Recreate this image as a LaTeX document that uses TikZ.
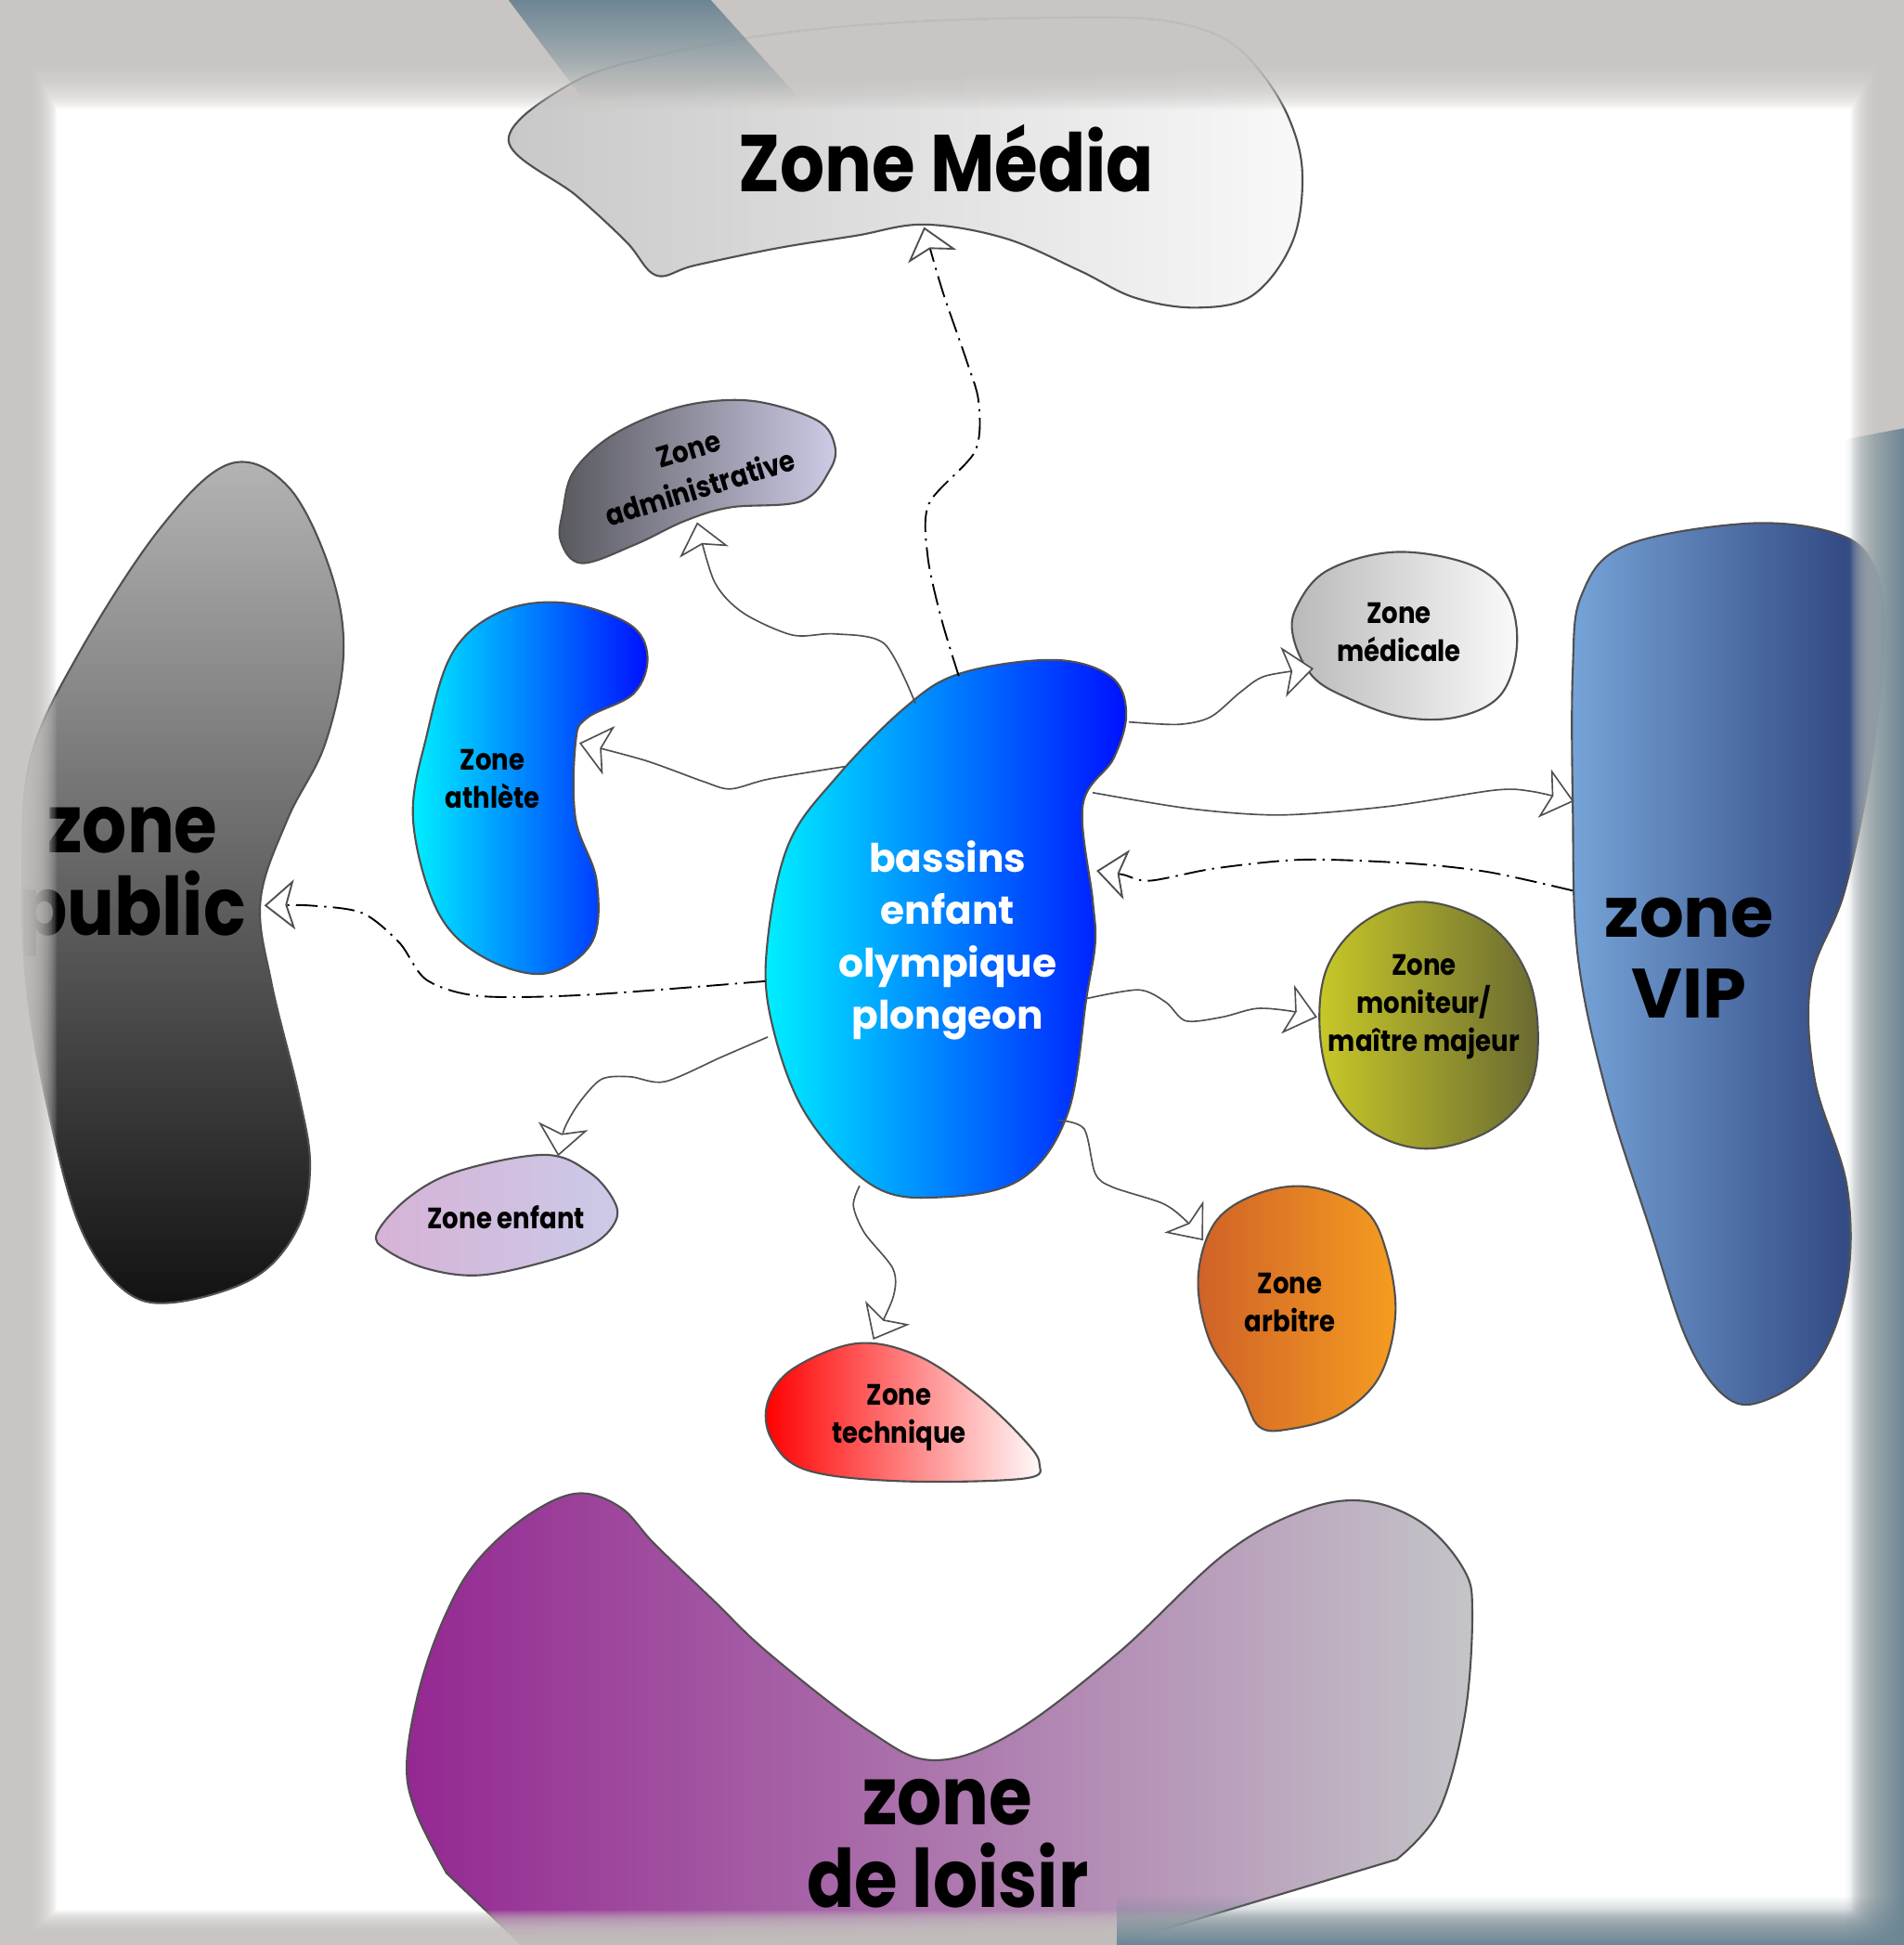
\documentclass[tikz,border=0pt]{standalone}
\usepackage{fontspec}
\newfontfamily\condfont{Poppins Bold}[FakeStretch=0.87]
\newfontfamily\widefont{Poppins Bold}
\usetikzlibrary{arrows.meta, fadings}
\definecolor{framegrey}{RGB}{200,197,194}
\definecolor{bandblue}{RGB}{108,134,148}
\definecolor{blobline}{RGB}{80,80,80}
\definecolor{linkgrey}{RGB}{80,80,80}
\definecolor{media1}{RGB}{200,200,200}
\definecolor{media2}{RGB}{248,248,248}
\definecolor{adm1}{RGB}{88,88,94}
\definecolor{adm2}{RGB}{205,203,230}
\definecolor{aqua1}{RGB}{0,240,255}
\definecolor{aqua2}{RGB}{0,16,255}
\definecolor{mdc1}{RGB}{185,185,185}
\definecolor{mdc2}{RGB}{250,250,250}
\definecolor{vip1}{RGB}{118,164,216}
\definecolor{vip2}{RGB}{42,62,120}
\definecolor{mon1}{RGB}{200,200,40}
\definecolor{mon2}{RGB}{106,106,50}
\definecolor{arb1}{RGB}{208,98,40}
\definecolor{arb2}{RGB}{245,156,32}
\definecolor{tec1}{RGB}{255,0,0}
\definecolor{tec2}{RGB}{255,255,255}
\definecolor{enf1}{RGB}{214,178,214}
\definecolor{enf2}{RGB}{204,202,232}
\definecolor{pub1}{RGB}{180,180,180}
\definecolor{pub2}{RGB}{18,18,18}
\definecolor{loi1}{RGB}{148,40,146}
\definecolor{loi2}{RGB}{196,196,200}
\tikzfading[name=fadeeast, left color=transparent!100, right color=transparent!0]
\tikzfading[name=fadesouth, top color=transparent!0, bottom color=transparent!100]
\tikzfading[name=fadeup, top color=transparent!100, bottom color=transparent!0]
\tikzset{
  blob/.style={draw=blobline, line width=0.9pt},
  openhead/.style={-{Stealth[color=linkgrey, fill=white, length=14pt, width=23pt, inset=3.5pt]}},
  link/.style={draw=linkgrey, line width=0.7pt, openhead},
  dlink/.style={draw=black, line width=0.8pt, dash pattern=on 10pt off 3pt on 1pt off 3pt, openhead},
  small/.style={font=\condfont\fontsize{13.5}{17.5}\selectfont, align=center, text=black},
  big/.style={font=\condfont\fontsize{37}{38}\selectfont, align=center, text=black},
  wide/.style={font=\widefont\fontsize{32}{37}\selectfont, align=center, text=black}
}

\begin{document}
\begin{tikzpicture}[x=0.02cm, y=-0.02cm]
  \useasboundingbox (0,0) rectangle (1535,1568);
  \fill[white] (0,0) rectangle (1535,1568);

  % zones
  \path[blob, left color=media1, right color=media2] plot[smooth cycle, tension=0.6] coordinates {
    (410,113) (461,67) (529,45) (627,27) (745,17) (882,14) (941,17) (985,30) (1014,55)
    (1039,95) (1050,140) (1042,195) (1010,238) (965,248) (915,240) (870,218) (810,192)
    (745,181) (690,190) (627,200) (560,214) (529,222) (505,195) (465,158)};
  \path[blob, left color=adm1, right color=adm2] plot[smooth cycle, tension=0.6] coordinates {
    (452,436) (454,411) (462,381) (489,354) (529,334) (569,324) (612,324) (659,339)
    (673,359) (669,379) (646,404) (589,409) (552,420) (512,439) (469,454)};
  \path[blob, left color=aqua1, right color=aqua2] plot[smooth cycle, tension=0.6] coordinates {
    (455,486) (507,503) (522,529) (511,559) (473,579) (464,599) (464,660) (481,710)
    (477,760) (438,785) (387,770) (352,733) (333,660) (344,593) (365,526) (404,493)};
  \path[blob, left color=aqua1, right color=aqua2] plot[smooth cycle, tension=0.6] coordinates {
    (729,571) (774,543) (849,532) (895,545) (908,574) (898,611) (873,649) (881,726)
    (883,760) (876,804) (861,897) (824,950) (761,965) (704,956) (649,897) (621,819)
    (619,757) (636,680) (674,627)};
  \path[blob, left color=mdc1, right color=mdc2] plot[smooth cycle, tension=0.6] coordinates {
    (1045,490) (1070,460) (1125,445) (1185,455) (1215,480) (1223,520) (1210,560)
    (1175,578) (1130,578) (1085,562) (1058,545) (1043,515)};
  \path[blob, left color=vip1, right color=vip2] plot[smooth cycle, tension=0.6] coordinates {
    (1275,480) (1310,440) (1409,422) (1480,430) (1510,455) (1519,509) (1509,614)
    (1487,719) (1460,790) (1463,870) (1489,956) (1489,1035) (1464,1100) (1420,1130)
    (1390,1125) (1360,1080) (1330,990) (1295,880) (1272,770) (1268,650) (1268,540)};
  \path[blob, left color=mon1, right color=mon2] plot[smooth cycle, tension=0.6] coordinates {
    (1147,727) (1200,745) (1231,785) (1240,835) (1232,880) (1200,912) (1150,926)
    (1105,912) (1075,878) (1064,830) (1070,780) (1100,743)};
  \path[blob, left color=arb1, right color=arb2] plot[smooth cycle, tension=0.6] coordinates {
    (1057,957) (1100,975) (1118,1010) (1125,1060) (1112,1110) (1080,1140) (1040,1152)
    (1015,1150) (1000,1120) (975,1080) (966,1030) (980,985) (1015,962)};
  \path[blob, left color=tec1, right color=tec2] plot[smooth cycle, tension=0.6] coordinates {
    (619,1130) (640,1103) (691,1083) (740,1093) (788,1125) (825,1160) (838,1180)
    (825,1192) (725,1194) (650,1185) (622,1160)};
  \path[blob, left color=enf1, right color=enf2] plot[smooth cycle, tension=0.6] coordinates {
    (304,994) (330,965) (370,944) (439,931) (475,945) (495,968) (496,985) (478,1003)
    (440,1017) (387,1028) (345,1023) (312,1008)};
  \path[blob, top color=pub1, bottom color=pub2] plot[smooth cycle, tension=0.6] coordinates {
    (185,374) (232,392) (266,459) (277,526) (262,600) (232,660) (210,726) (219,793)
    (241,883) (250,940) (240,990) (205,1030) (140,1050) (100,1040) (65,990) (40,900)
    (22,800) (18,700) (25,610) (64,526) (129,426)};
  \path[blob, left color=loi1, right color=loi2] (421,1568) -- plot[smooth, tension=0.6] coordinates {
    (360,1510) (335,1460) (328,1420) (339,1358) (360,1300) (385,1258) (425,1222)
    (465,1204) (500,1215) (528,1245) (575,1290) (620,1333) (700,1395) (752,1419)
    (815,1398) (901,1333) (987,1253) (1050,1218) (1100,1210) (1147,1228) (1180,1265)
    (1187,1300) (1181,1383) (1160,1460) (1126,1499)} -- (896,1568) -- cycle;

  % end points of the links
  \coordinate (bas-adm) at (738,567);
  \coordinate (adm-in) at (562,421);
  \coordinate (bas-med) at (773,545);
  \coordinate (med-in) at (745,183);
  \coordinate (bas-ath) at (681,618);
  \coordinate (ath-in) at (467,599);
  \coordinate (bas-mdc) at (910,582);
  \coordinate (mdc-in) at (1059,539);
  \coordinate (bas-vip) at (881,639);
  \coordinate (vip-in) at (1269,646);
  \coordinate (vip-bas) at (1268,718);
  \coordinate (bas-in) at (884,702);
  \coordinate (bas-pub) at (617,791);
  \coordinate (pub-in) at (213,730);
  \coordinate (bas-mon) at (876,805);
  \coordinate (mon-in) at (1062,820);
  \coordinate (bas-enf) at (619,836);
  \coordinate (enf-in) at (450,932);
  \coordinate (bas-tec) at (693,956);
  \coordinate (tec-in) at (704,1080);
  \coordinate (bas-arb) at (853,903);
  \coordinate (arb-in) at (970,1000);

  % links
  \draw[link] plot[smooth] coordinates {(bas-adm) (713,519) (673,511) (639,512) (599,494) (576,469) (adm-in)};
  \draw[dlink] plot[smooth] coordinates {(bas-med) (759,499) (748,449) (749,406) (786,364) (789,324) (779,290) (760,235) (med-in)};
  \draw[link] plot[smooth] coordinates {(bas-ath) (620,628) (589,636) (567,630) (520,613) (ath-in)};
  \draw[link] plot[smooth] coordinates {(bas-mdc) (950,584) (976,578) (1000,558) (1020,545) (mdc-in)};
  \draw[link] plot[smooth] coordinates {(bas-vip) (960,652) (1033,657) (1120,650) (1205,637) (1235,638) (vip-in)};
  \draw[dlink] plot[smooth] coordinates {(vip-bas) (1200,703) (1136,696) (1051,693) (980,700) (927,710) (905,705) (bas-in)};
  \draw[dlink] plot[smooth] coordinates {(bas-pub) (473,802) (387,803) (344,790) (322,760) (292,736) (250,730) (pub-in)};
  \draw[link] plot[smooth] coordinates {(bas-mon) (918,798) (940,808) (956,823) (985,820) (1013,813) (1040,815) (mon-in)};
  \draw[link] plot[smooth] coordinates {(bas-enf) (582,852) (536,872) (508,868) (485,870) (467,889) (455,910) (enf-in)};
  \draw[link] plot[smooth] coordinates {(bas-tec) (688,972) (697,994) (720,1023) (720,1046) (tec-in)};
  \draw[link] plot[smooth] coordinates {(bas-arb) (874,910) (883,946) (897,957) (937,970) (955,983) (arb-in)};

  % labels
  \node[big] (tmedia) at (763,128) {Zone Média};
  \node[small, rotate=17, font=\condfont\fontsize{13.5}{18.5}\selectfont] (tadm) at (560,378) {Zone\\administrative};
  \node[small] (tath) at (397,628) {Zone\\athlète};
  \node[font=\widefont\fontsize{18}{24}\selectfont, align=center, text=white] (tbas) at (764,758) {bassins\\enfant\\olympique\\plongeon};
  \node[small] (tmdc) at (1128,510) {Zone\\médicale};
  \node[wide] (tvip) at (1362,772) {zone\\VIP};
  \node[small] (tmon) at (1148,812) {Zone\\moniteur/\\maître majeur};
  \node[small] (tarb) at (1040,1050) {Zone\\arbitre};
  \node[small] (ttec) at (725,1143) {Zone\\technique};
  \node[small] (tenf) at (408,981) {Zone enfant};
  \node[big] (tpub) at (107,711) {zone\\public};
  \node[big] (tlois) at (764,1486) {zone\\de loisir};

  % frame
  \foreach \k in {0,...,29}
    \fill[framegrey, fill opacity=0.1, even odd rule] (0,0) rectangle (1535,1568)
      (46-\k, 88-1.7*\k) rectangle (1492+\k, 1540+0.8*\k);
  \fill[bandblue, path fading=fadesouth] (410,0) -- (573,0) -- (645,80) -- (470,80) -- cycle;
  \fill[bandblue, path fading=fadeeast] (1487,352) -- (1535,343) -- (1535,1568) -- (1487,1568) -- cycle;
  \fill[bandblue, path fading=fadeup] (900,1528) rectangle (1535,1568);
\end{tikzpicture}
\end{document}
